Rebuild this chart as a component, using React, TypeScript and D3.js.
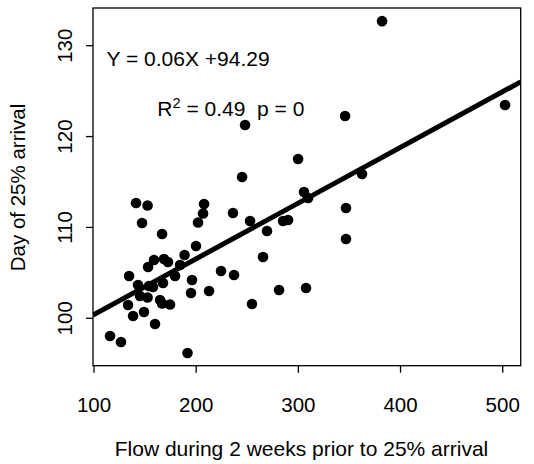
import React from "react";
import * as d3 from "d3";

const flow: number[] = [
  381.9, 502.3, 247.8, 345.7, 299.7, 244.9, 362.3, 305.5, 309.5, 346.6,
  346.6, 307.5, 281.1, 254.6, 285.0, 289.9, 236.0, 252.7, 269.3, 265.4,
  224.3, 237.0, 212.6, 141.1, 152.4, 147.0, 166.6, 207.7, 206.7, 201.8,
  199.8, 188.6, 158.7, 168.5, 172.4, 152.9, 184.2, 134.3, 179.3, 195.9,
  194.9, 143.1, 153.8, 157.7, 167.5, 145.0, 152.4, 164.6, 166.6, 174.4,
  133.3, 148.9, 138.2, 159.7, 115.7, 126.4, 191.5,
];
const day: number[] = [
  132.7, 123.47, 121.27, 122.26, 117.53, 115.55, 115.88, 113.9, 113.24, 112.14,
  108.73, 103.33, 103.11, 101.57, 110.71, 110.82, 111.59, 110.71, 109.61, 106.75,
  105.21, 104.77, 103.0, 112.69, 112.41, 110.49, 109.28, 112.58, 111.53, 110.54,
  107.96, 106.97, 106.42, 106.53, 106.2, 105.65, 105.87, 104.66, 104.66, 104.21,
  102.78, 103.66, 103.55, 103.44, 103.88, 102.45, 102.29, 102.01, 101.63, 101.52,
  101.46, 100.69, 100.25, 99.37, 98.05, 97.39, 96.18,
];
const xTicks: number[] = [100, 200, 300, 400, 500];
const yTicks: number[] = [100, 110, 120, 130];
const xDomain: number[] = [99.0, 517.6];
const yDomain: number[] = [94.78, 134.15];
const SLOPE = 0.0613;
const INTERCEPT = 94.29;
const eqText = "Y = 0.06X +94.29";
const xTitle = "Flow during 2 weeks prior to 25% arrival";
const yTitle = "Day of 25% arrival";

const FONT = "'Liberation Sans', Arial, Helvetica, sans-serif";

export default function App() {
  const left = 93, right = 520.7, top = 8, bottom = 365.7;
  const x = d3.scaleLinear().domain(xDomain).range([left, right]);
  const y = d3.scaleLinear().domain(yDomain).range([bottom, top]);
  const pts = flow.map((f, i) => ({ f, d: day[i] }));
  const lineGen = d3.line<number>().x((v) => x(v)).y((v) => y(INTERCEPT + SLOPE * v));
  const fs = 20.5;
  const fsT = 21;
  return (
    <svg
      width={534}
      height={464}
      style={{ position: "absolute", left: 0, top: 0, background: "#fff" }}
      fontFamily={FONT}
    >
      <defs>
        <clipPath id="plotclip">
          <rect x={left} y={top} width={right - left} height={bottom - top} />
        </clipPath>
      </defs>
      <rect x={0} y={0} width={534} height={464} fill="#fff" />
      {pts.map((p, i) => (
        <circle key={i} cx={x(p.f)} cy={y(p.d)} r={5.3} fill="#000" />
      ))}
      <path
        d={lineGen(xDomain) || ""}
        stroke="#000"
        strokeWidth={5}
        fill="none"
        clipPath="url(#plotclip)"
      />
      <rect x={left} y={top} width={right - left} height={bottom - top} fill="none" stroke="#000" strokeWidth={1.3} />
      {xTicks.map((t) => (
        <g key={t}>
          <line x1={x(t)} x2={x(t)} y1={bottom} y2={bottom + 7} stroke="#000" strokeWidth={1.3} />
          <text x={x(t)} y={411.5} fontSize={fs} textAnchor="middle" fill="#000">{t}</text>
        </g>
      ))}
      {yTicks.map((t) => (
        <g key={t}>
          <line x1={left} x2={left - 7} y1={y(t)} y2={y(t)} stroke="#000" strokeWidth={1.3} />
          <text
            transform={`translate(${71.5},${y(t)}) rotate(-90)`}
            fontSize={fs}
            textAnchor="middle"
            fill="#000"
          >
            {t}
          </text>
        </g>
      ))}
      <text x={301.5} y={456} fontSize={fsT} textAnchor="middle" fill="#000">{xTitle}</text>
      <text
        transform={`translate(${25},${187.5}) rotate(-90)`}
        fontSize={fs}
        textAnchor="middle"
        fill="#000"
      >
        {yTitle}
      </text>
      <text x={106.5} y={65.7} fontSize={fsT} fill="#000">{eqText}</text>
      <text x={157.3} y={115.7} fontSize={fsT} fill="#000">
        R<tspan dy={-8} fontSize={14.5}>2</tspan>
        <tspan dy={8}>{"\u00a0= 0.49\u00a0\u00a0p = 0"}</tspan>
      </text>
    </svg>
  );
}
